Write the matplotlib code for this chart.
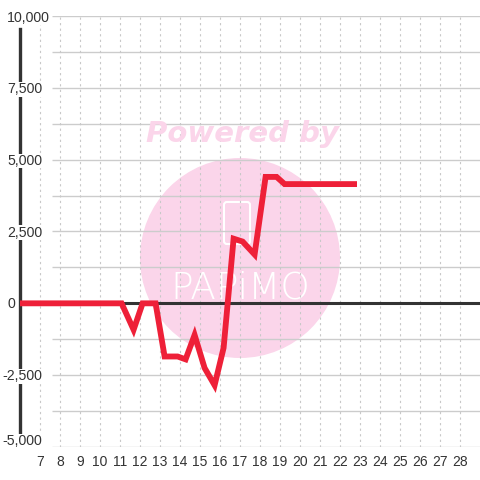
import matplotlib
matplotlib.use("Agg")
import matplotlib.pyplot as plt
from matplotlib.patches import Ellipse, FancyBboxPatch

# time axis (day of month) and value series
DAYS = [6.0, 11.08, 11.68, 12.13, 12.78, 13.23, 13.88, 14.28, 14.73, 15.23,
        15.73, 16.18, 16.68, 17.13, 17.73, 18.28, 18.83, 19.23, 22.85]
VALUES = [0, 0, -920, 0, 0, -1850, -1850, -1950, -1100, -2250,
          -2850, -1550, 2250, 2150, 1700, 4400, 4400, 4150, 4150]

Y_TICKS = [-5000, -2500, 0, 2500, 5000, 7500, 10000]
Y_MINOR = [-3750, -1250, 1250, 3750, 6250, 8750]
X_TICKS = list(range(7, 29))

W, H = 480, 480
fig = plt.figure(figsize=(4.8, 4.8), dpi=100)
fig.patch.set_facecolor("white")
ax = fig.add_axes([20 / W, (H - 447) / H, 460 / W, (447 - 16) / H])
ax.set_xlim(6, 29)
ax.set_ylim(-5000, 10000)
for s in ax.spines.values():
    s.set_visible(False)
ax.set_yticks([])
ax.set_xticks(X_TICKS)
ax.set_xticklabels([str(t) for t in X_TICKS], fontsize=10, color="#333",
                   family="Liberation Sans")
ax.tick_params(axis="x", length=0, pad=6)

# watermark (behind everything)
ax.add_patch(Ellipse((0.5, 1 - 258 / H), 200 / W, 200 / H, transform=fig.transFigure,
                     facecolor="#fbd5ea", edgecolor="none", zorder=0))
ax.add_patch(FancyBboxPatch((224 / W, 1 - 244 / H), 26 / W, 42 / H,
                            boxstyle="round,pad=0,rounding_size=0.006",
                            transform=fig.transFigure, facecolor="none",
                            edgecolor="white", lw=1.5, zorder=0.1))
fig.text(0.505, 1 - 134 / H, "Powered by", ha="center", va="center", fontsize=21,
         fontweight="bold", style="italic", color="#fbd5ea", family="DejaVu Sans",
         zorder=0)
ax.text(0.5, 1 - 288 / H, "PAPiMO", transform=fig.transFigure, ha="center",
        va="center", fontsize=27, color="white", family="DejaVu Sans",
        fontweight="light", zorder=0.1)

# grid
ax.hlines(Y_TICKS + Y_MINOR, 7.6, 29, color="#cccccc", lw=1, zorder=0.5)
ax.vlines(X_TICKS, -5000, 10000, color="#c8c8c8", lw=0.8, linestyles=(0, (2, 3)),
          zorder=0.5)
ax.axhline(0, color="#333333", lw=2.2, zorder=1)
ax.axvline(6, ymin=0.02, ymax=0.97, color="#333333", lw=2.4, zorder=1, clip_on=False)

# y labels sit over the axis line on a white ground
for t in Y_TICKS:
    x_px = 2 if t < 0 else (8 if t == 0 else 7)
    y_px = 304.5 - t * 28.7 / 1000 if t > -5000 else 441
    ax.text(x_px / W, 1 - y_px / H, f"{t:,}", transform=fig.transFigure,
            ha="left", va="center", fontsize=10.2, color="#333",
            family="Liberation Sans", zorder=3,
            bbox=dict(facecolor="white", edgecolor="none", pad=0.3))

ax.plot(DAYS, VALUES, color="#ee2038", lw=4.2, solid_joinstyle="miter",
        solid_capstyle="butt", zorder=2)

fig.savefig("out.png", dpi=100)
